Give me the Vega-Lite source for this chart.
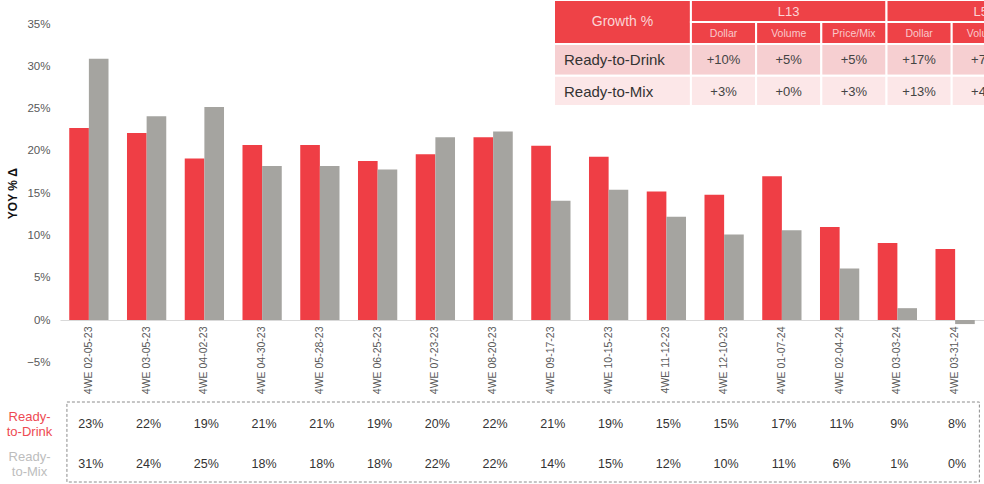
{
  "$schema": "https://vega.github.io/schema/vega-lite/v6.json",
  "width": 984,
  "height": 484,
  "autosize": {"type": "none"},
  "padding": 0,
  "background": "white",
  "config": {"font": "Liberation Sans", "view": {"stroke": null}, "axis": {"grid": false}},
  "datasets": {
    "yoy": [
      {"week": "4WE 02-05-23", "series": "Ready-to-Drink", "value": 0.227},
      {"week": "4WE 03-05-23", "series": "Ready-to-Drink", "value": 0.221},
      {"week": "4WE 04-02-23", "series": "Ready-to-Drink", "value": 0.191},
      {"week": "4WE 04-30-23", "series": "Ready-to-Drink", "value": 0.207},
      {"week": "4WE 05-28-23", "series": "Ready-to-Drink", "value": 0.207},
      {"week": "4WE 06-25-23", "series": "Ready-to-Drink", "value": 0.188},
      {"week": "4WE 07-23-23", "series": "Ready-to-Drink", "value": 0.196},
      {"week": "4WE 08-20-23", "series": "Ready-to-Drink", "value": 0.216},
      {"week": "4WE 09-17-23", "series": "Ready-to-Drink", "value": 0.206},
      {"week": "4WE 10-15-23", "series": "Ready-to-Drink", "value": 0.193},
      {"week": "4WE 11-12-23", "series": "Ready-to-Drink", "value": 0.152},
      {"week": "4WE 12-10-23", "series": "Ready-to-Drink", "value": 0.148},
      {"week": "4WE 01-07-24", "series": "Ready-to-Drink", "value": 0.170},
      {"week": "4WE 02-04-24", "series": "Ready-to-Drink", "value": 0.110},
      {"week": "4WE 03-03-24", "series": "Ready-to-Drink", "value": 0.091},
      {"week": "4WE 03-31-24", "series": "Ready-to-Drink", "value": 0.084},
      {"week": "4WE 02-05-23", "series": "Ready-to-Mix", "value": 0.309},
      {"week": "4WE 03-05-23", "series": "Ready-to-Mix", "value": 0.241},
      {"week": "4WE 04-02-23", "series": "Ready-to-Mix", "value": 0.252},
      {"week": "4WE 04-30-23", "series": "Ready-to-Mix", "value": 0.182},
      {"week": "4WE 05-28-23", "series": "Ready-to-Mix", "value": 0.182},
      {"week": "4WE 06-25-23", "series": "Ready-to-Mix", "value": 0.178},
      {"week": "4WE 07-23-23", "series": "Ready-to-Mix", "value": 0.216},
      {"week": "4WE 08-20-23", "series": "Ready-to-Mix", "value": 0.223},
      {"week": "4WE 09-17-23", "series": "Ready-to-Mix", "value": 0.141},
      {"week": "4WE 10-15-23", "series": "Ready-to-Mix", "value": 0.154},
      {"week": "4WE 11-12-23", "series": "Ready-to-Mix", "value": 0.122},
      {"week": "4WE 12-10-23", "series": "Ready-to-Mix", "value": 0.101},
      {"week": "4WE 01-07-24", "series": "Ready-to-Mix", "value": 0.106},
      {"week": "4WE 02-04-24", "series": "Ready-to-Mix", "value": 0.061},
      {"week": "4WE 03-03-24", "series": "Ready-to-Mix", "value": 0.014},
      {"week": "4WE 03-31-24", "series": "Ready-to-Mix", "value": -0.0048}
    ],
    "summary": [
      {"part": "corner", "row": "head", "c0": 0, "c1": 2.1, "r0": 0, "r1": 2, "text": "Growth %"},
      {"part": "group", "row": "head", "c0": 2.1, "c1": 5.1, "r0": 0, "r1": 1, "text": "L13"},
      {"part": "group", "row": "head", "c0": 5.1, "c1": 8.1, "r0": 0, "r1": 1, "text": "L52"},
      {"part": "metric", "row": "head", "c0": 2.1, "c1": 3.1, "r0": 1, "r1": 2, "text": "Dollar"},
      {"part": "metric", "row": "head", "c0": 3.1, "c1": 4.1, "r0": 1, "r1": 2, "text": "Volume"},
      {"part": "metric", "row": "head", "c0": 4.1, "c1": 5.1, "r0": 1, "r1": 2, "text": "Price/Mix"},
      {"part": "metric", "row": "head", "c0": 5.1, "c1": 6.1, "r0": 1, "r1": 2, "text": "Dollar"},
      {"part": "metric", "row": "head", "c0": 6.1, "c1": 7.1, "r0": 1, "r1": 2, "text": "Volume"},
      {"part": "metric", "row": "head", "c0": 7.1, "c1": 8.1, "r0": 1, "r1": 2, "text": "Price/Mix"},
      {"part": "label", "row": "rtd", "c0": 0, "c1": 2.1, "r0": 2, "r1": 3.45, "text": "Ready-to-Drink"},
      {"part": "value", "row": "rtd", "c0": 2.1, "c1": 3.1, "r0": 2, "r1": 3.45, "text": "+10%"},
      {"part": "value", "row": "rtd", "c0": 3.1, "c1": 4.1, "r0": 2, "r1": 3.45, "text": "+5%"},
      {"part": "value", "row": "rtd", "c0": 4.1, "c1": 5.1, "r0": 2, "r1": 3.45, "text": "+5%"},
      {"part": "value", "row": "rtd", "c0": 5.1, "c1": 6.1, "r0": 2, "r1": 3.45, "text": "+17%"},
      {"part": "value", "row": "rtd", "c0": 6.1, "c1": 7.1, "r0": 2, "r1": 3.45, "text": "+7%"},
      {"part": "value", "row": "rtd", "c0": 7.1, "c1": 8.1, "r0": 2, "r1": 3.45, "text": "+10%"},
      {"part": "label", "row": "rtm", "c0": 0, "c1": 2.1, "r0": 3.45, "r1": 4.82, "text": "Ready-to-Mix"},
      {"part": "value", "row": "rtm", "c0": 2.1, "c1": 3.1, "r0": 3.45, "r1": 4.82, "text": "+3%"},
      {"part": "value", "row": "rtm", "c0": 3.1, "c1": 4.1, "r0": 3.45, "r1": 4.82, "text": "+0%"},
      {"part": "value", "row": "rtm", "c0": 4.1, "c1": 5.1, "r0": 3.45, "r1": 4.82, "text": "+3%"},
      {"part": "value", "row": "rtm", "c0": 5.1, "c1": 6.1, "r0": 3.45, "r1": 4.82, "text": "+13%"},
      {"part": "value", "row": "rtm", "c0": 6.1, "c1": 7.1, "r0": 3.45, "r1": 4.82, "text": "+4%"},
      {"part": "value", "row": "rtm", "c0": 7.1, "c1": 8.1, "r0": 3.45, "r1": 4.82, "text": "+9%"}
    ],
    "frame": [{"x0": 0.12, "x1": 15.92, "y0": 0, "y1": 2}]
  },
  "resolve": {
    "scale": {"x": "independent", "y": "independent", "color": "independent", "fill": "independent", "xOffset": "independent"},
    "axis": {"x": "independent", "y": "independent"}
  },
  "layer": [
    {
      "data": {"name": "yoy"},
      "mark": {"type": "bar"},
      "encoding": {
        "x": {
          "field": "week", "type": "nominal", "sort": null,
          "scale": {"range": [60, 984], "paddingInner": 0.32, "paddingOuter": 0.16},
          "axis": {"orient": "bottom", "offset": -164, "title": null, "labelAngle": -90, "ticks": false, "tickSize": 0, "labelPadding": 6, "domainColor": "#d9d9d9", "labelColor": "#595959", "labelFontSize": 10.5}
        },
        "xOffset": {"field": "series", "type": "nominal", "sort": ["Ready-to-Drink", "Ready-to-Mix"], "scale": {"paddingInner": 0, "paddingOuter": 0}},
        "y": {
          "field": "value", "type": "quantitative",
          "scale": {"domain": [-0.05, 0.35], "range": [362.3, 24], "nice": false, "zero": false},
          "axis": {"orient": "left", "offset": -60, "values": [-0.05, 0, 0.05, 0.1, 0.15, 0.2, 0.25, 0.3, 0.35], "format": ".0%", "domain": false, "ticks": false, "tickSize": 0, "grid": false, "labelPadding": 10, "labelFontSize": 11.5, "labelColor": "#595959", "title": "YOY % Δ", "titleFontSize": 12, "titleFontWeight": "bold", "titleColor": "#111111", "titlePadding": 7}
        },
        "color": {"field": "series", "type": "nominal", "scale": {"domain": ["Ready-to-Drink", "Ready-to-Mix"], "range": ["#EF3E45", "#A5A4A0"]}, "legend": null}
      }
    },
    {
      "data": {"name": "yoy"},
      "mark": {"type": "text", "fontSize": 12.5, "color": "#333333", "dx": 2},
      "encoding": {
        "x": {"field": "week", "type": "nominal", "sort": null, "scale": {"range": [60, 984]}, "axis": null},
        "y": {
          "field": "series", "type": "nominal",
          "scale": {"domain": ["Ready-to-Drink", "Ready-to-Mix"], "range": [404, 484]},
          "axis": {"orient": "left", "offset": -60, "title": null, "domain": false, "ticks": false, "tickSize": 0, "grid": false, "labelPadding": 31, "labelAlign": "center", "labelBaseline": "middle", "labelOffset": -7.5, "labelFontSize": 13, "labelLineHeight": 15,
            "labelExpr": "datum.value == 'Ready-to-Drink' ? ['Ready-', 'to-Drink'] : ['Ready-', 'to-Mix']",
            "labelColor": {"condition": {"test": "datum.value == 'Ready-to-Drink'", "value": "#EE4A52"}, "value": "#BDBDBD"}}
        },
        "text": {"field": "value", "type": "quantitative", "format": ".0%"}
      }
    },
    {
      "data": {"name": "frame"},
      "mark": {"type": "rect", "fill": "transparent", "stroke": "#8c8c8c", "strokeDash": [3, 2], "strokeWidth": 1},
      "encoding": {
        "x": {"field": "x0", "type": "quantitative", "scale": {"domain": [0, 16], "range": [60, 984], "nice": false, "zero": false}, "axis": null},
        "x2": {"field": "x1"},
        "y": {"field": "y0", "type": "quantitative", "scale": {"domain": [0, 2], "range": [402, 482], "nice": false, "zero": false}, "axis": null},
        "y2": {"field": "y1"}
      }
    },
    {
      "data": {"name": "summary"},
      "encoding": {
        "x": {"field": "c0", "type": "quantitative", "scale": {"domain": [0, 8.1], "range": [554, 1082.1], "nice": false, "zero": false}, "axis": null},
        "y": {"field": "r0", "type": "quantitative", "scale": {"domain": [0, 4.82], "range": [0, 106], "nice": false, "zero": false}, "axis": null}
      },
      "layer": [
        {
          "mark": {"type": "rect", "stroke": "white", "strokeWidth": 2},
          "encoding": {
            "x2": {"field": "c1"},
            "y2": {"field": "r1"},
            "fill": {"field": "row", "type": "nominal", "scale": {"domain": ["head", "rtd", "rtm"], "range": ["#EE4247", "#F6CFD1", "#FCE7E8"]}, "legend": null}
          }
        },
        {
          "transform": [{"filter": "datum.part == 'corner'"}],
          "mark": {"type": "text", "dx": 68.5, "dy": 22, "fontSize": 14, "color": "#FBD5D6"},
          "encoding": {"text": {"field": "text"}}
        },
        {
          "transform": [{"filter": "datum.part == 'group'"}],
          "mark": {"type": "text", "dx": 97.8, "dy": 11.5, "fontSize": 13, "color": "#FBD5D6"},
          "encoding": {"text": {"field": "text"}}
        },
        {
          "transform": [{"filter": "datum.part == 'metric'"}],
          "mark": {"type": "text", "dx": 32.6, "dy": 12, "fontSize": 10.5, "color": "#F9C9CB"},
          "encoding": {"text": {"field": "text"}}
        },
        {
          "transform": [{"filter": "datum.part == 'label'"}],
          "mark": {"type": "text", "dx": 10, "dy": 16.5, "align": "left", "fontSize": 15, "color": "#333333"},
          "encoding": {"text": {"field": "text"}}
        },
        {
          "transform": [{"filter": "datum.part == 'value'"}],
          "mark": {"type": "text", "dx": 32.6, "dy": 16.5, "fontSize": 13, "color": "#444444"},
          "encoding": {"text": {"field": "text"}}
        }
      ]
    }
  ]
}
